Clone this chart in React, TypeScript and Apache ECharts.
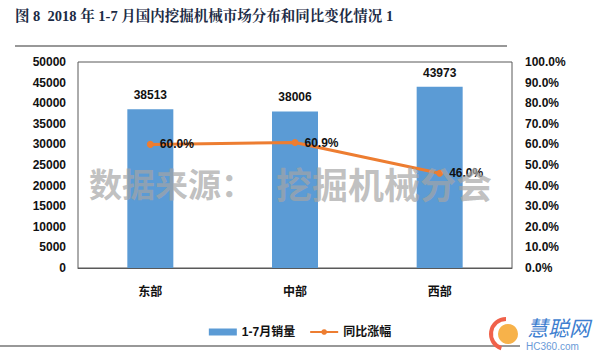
import React, { useEffect, useRef } from "react";
import * as echarts from "echarts";

const categories = ["东部", "中部", "西部"];
const salesValues = [38513, 38006, 43973];
const yoyValues = [60.0, 60.9, 46.0];
const leftTicks = { min: 0, max: 50000, interval: 5000 };
const rightTicks = { min: 0, max: 100, interval: 10 };

const FONT = "'Liberation Sans', Arial, 'Noto Sans CJK SC', sans-serif";

export default function App() {
  const ref = useRef<HTMLDivElement>(null);
  useEffect(() => {
    if (!ref.current) return;
    const chart = echarts.init(ref.current, null, { renderer: "svg" });
    chart.setOption({
      animation: false,
      backgroundColor: "#ffffff",
      textStyle: { fontFamily: FONT },
      grid: {
        left: 78,
        right: 88,
        top: 62,
        bottom: 91,
        show: true,
        borderColor: "#595959",
        borderWidth: 1,
        backgroundColor: "transparent",
      },
      legend: {
        bottom: 16,
        left: "center",
        itemWidth: 28,
        itemHeight: 7,
        itemGap: 14,
        textStyle: { fontWeight: "bold", fontSize: 12, color: "#111", fontFamily: FONT },
        data: [
          { name: "1-7月销量", icon: "rect" },
          { name: "同比涨幅" },
        ],
      },
      xAxis: {
        type: "category",
        data: categories,
        axisLine: { show: true, lineStyle: { color: "#595959" } },
        axisTick: { show: false },
        axisLabel: { fontWeight: "bold", fontSize: 12, color: "#111", margin: 18 },
      },
      yAxis: [
        {
          type: "value",
          min: leftTicks.min,
          max: leftTicks.max,
          interval: leftTicks.interval,
          axisLine: { show: false },
          axisTick: { show: false },
          splitLine: { show: false },
          axisLabel: {
            fontWeight: "bold",
            fontSize: 12,
            color: "#111",
            margin: 12,
            formatter: (v: number) => String(v),
          },
        },
        {
          type: "value",
          min: rightTicks.min,
          max: rightTicks.max,
          interval: rightTicks.interval,
          axisLine: { show: false },
          axisTick: { show: false },
          splitLine: { show: false },
          axisLabel: {
            fontWeight: "bold",
            fontSize: 12,
            color: "#111",
            margin: 13,
            formatter: (v: number) => v.toFixed(1) + "%",
          },
        },
      ],
      series: [
        {
          name: "1-7月销量",
          type: "bar",
          data: salesValues,
          barWidth: 46,
          itemStyle: { color: "#5B9BD5" },
          label: {
            show: true,
            position: "top",
            distance: 8,
            fontWeight: "bold",
            fontSize: 12,
            color: "#111",
          },
        },
        {
          name: "同比涨幅",
          type: "line",
          yAxisIndex: 1,
          data: yoyValues,
          symbol: "circle",
          symbolSize: 7,
          lineStyle: { color: "#ED7D31", width: 3 },
          itemStyle: { color: "#ED7D31" },
          label: {
            show: true,
            position: "right",
            distance: 6,
            fontWeight: "bold",
            fontSize: 12,
            color: "#111",
            formatter: (p: any) => p.value.toFixed(1) + "%",
          },
        },
      ],
      graphic: [
        {
          type: "text",
          left: 15,
          top: 9,
          style: {
            text: "图 8  2018 年 1-7 月国内挖掘机械市场分布和同比变化情况 1",
            fontSize: 14.5,
            fontWeight: "bold",
            fontFamily: "'Liberation Serif', 'Noto Serif CJK SC', 'Noto Sans CJK SC', serif",
            fill: "#1c2b45",
          },
        },
        {
          type: "line",
          shape: { x1: 15, y1: 46, x2: 507, y2: 46 },
          style: { stroke: "#333", lineWidth: 1.2 },
        },
        {
          type: "line",
          shape: { x1: 0, y1: 346, x2: 520, y2: 346 },
          style: { stroke: "#333", lineWidth: 1.2 },
        },
        {
          type: "text",
          left: 89,
          top: 166,
          z: 100,
          style: {
            text: "数据来源：",
            fontSize: 33,
            fontWeight: "bold",
            fontFamily: "'Noto Sans CJK SC', sans-serif",
            fill: "rgba(165,165,165,0.7)",
          },
        },
        {
          type: "text",
          left: 276,
          top: 165,
          z: 100,
          style: {
            text: "挖掘机械分会",
            fontSize: 36,
            fontWeight: "bold",
            fontFamily: "'Noto Sans CJK SC', sans-serif",
            fill: "rgba(165,165,165,0.7)",
          },
        },
        {
          type: "circle",
          shape: { cx: 508, cy: 334, r: 10 },
          style: { fill: "#f7b24a" },
        },
        {
          type: "arc",
          shape: { cx: 506, cy: 334, r: 15, startAngle: Math.PI * 0.6, endAngle: Math.PI * 1.5 },
          style: { stroke: "#f0614a", lineWidth: 4, fill: "none" },
        },
        {
          type: "text",
          left: 527,
          top: 316,
          style: {
            text: "慧聪网",
            fontSize: 21,
            fontStyle: "italic",
            fontFamily: "'Noto Sans CJK SC', sans-serif",
            fill: "#3f7fd0",
          },
        },
        {
          type: "text",
          left: 526,
          top: 341,
          style: {
            text: "HC360.com",
            fontSize: 10,
            fontFamily: FONT,
            fill: "#6a9ad8",
          },
        },
      ],
    });
    return () => chart.dispose();
  }, []);
  return (
    <div
      ref={ref}
      style={{ width: 600, height: 359, position: "fixed", left: 0, top: 0 }}
    />
  );
}
